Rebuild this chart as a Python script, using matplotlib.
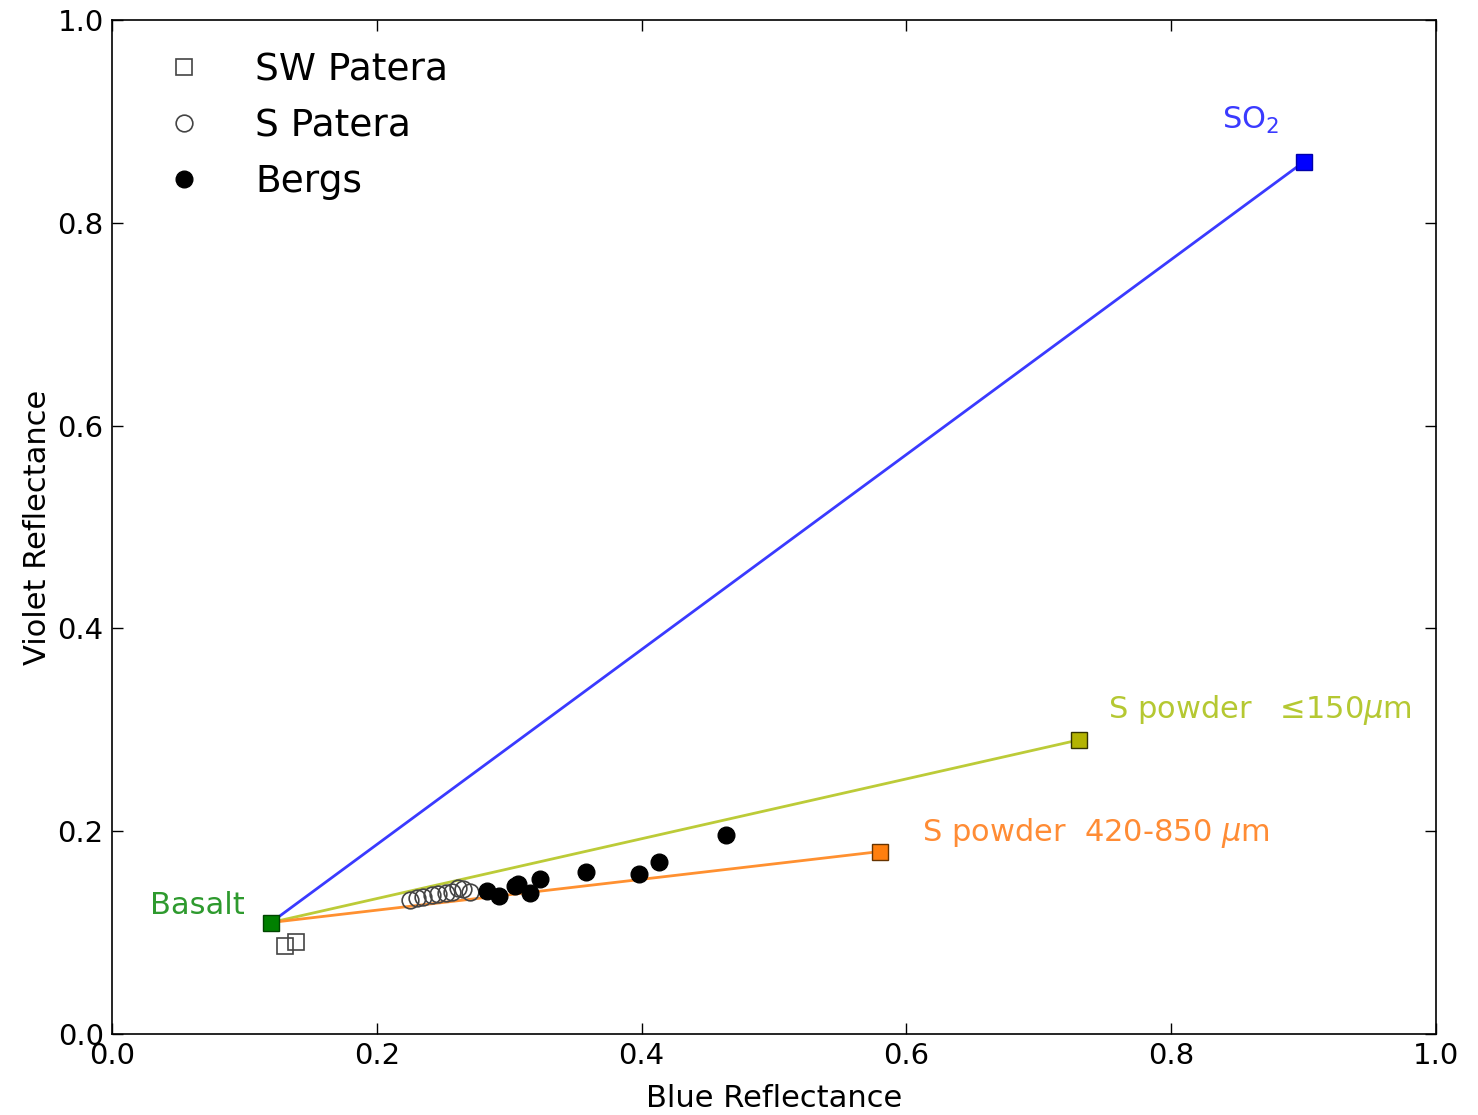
import numpy as np
import matplotlib
matplotlib.use('Agg')
import matplotlib.pyplot as plt

# end members (blue, violet)
basalt = (0.12, 0.11)
so2 = (0.90, 0.86)
s_fine = (0.73, 0.29)
s_coarse = (0.58, 0.18)

# SW Patera
sw_x = [0.131, 0.139]
sw_y = [0.087, 0.091]

# S Patera
sp_x = [0.225, 0.230, 0.235, 0.242, 0.246, 0.252, 0.257, 0.261, 0.265, 0.270]
sp_y = [0.132, 0.134, 0.135, 0.137, 0.138, 0.139, 0.140, 0.144, 0.143, 0.140]

# Bergs
bg_x = [0.283, 0.292, 0.304, 0.307, 0.316, 0.323, 0.358, 0.398, 0.413, 0.464]
bg_y = [0.141, 0.136, 0.146, 0.148, 0.139, 0.153, 0.160, 0.158, 0.170, 0.196]

plt.rcParams['font.family'] = 'DejaVu Sans'
plt.rcParams['mathtext.fontset'] = 'dejavusans'

fig = plt.figure(figsize=(14.78, 11.15), dpi=100)
ax = fig.add_axes([0.0758, 0.0726, 0.8958, 0.9094])

ax.plot([basalt[0], so2[0]], [basalt[1], so2[1]], '-', color='#3a3aff', lw=2)
ax.plot([basalt[0], s_fine[0]], [basalt[1], s_fine[1]], '-', color='#bccb38', lw=2)
ax.plot([basalt[0], s_coarse[0]], [basalt[1], s_coarse[1]], '-', color='#ff9030', lw=2)

ax.plot(sw_x, sw_y, 's', mfc='none', mec='#444444', ms=11, mew=1.2, label='SW Patera')
ax.plot(sp_x, sp_y, 'o', mfc='none', mec='#444444', ms=12, mew=1.2, label='S Patera')
ax.plot(bg_x, bg_y, 'o', color='black', ms=12, label='Bergs')

ax.plot(*so2, 's', mfc='#0000ff', mec='#0000aa', ms=11)
ax.plot(*s_fine, 's', mfc='#b3b300', mec='#333300', ms=11)
ax.plot(*s_coarse, 's', mfc='#ff7f0e', mec='#663300', ms=11)
ax.plot(*basalt, 's', mfc='#008000', mec='#004400', ms=11)

ax.text(0.838, 0.893, r'SO$_2$', color='#3a3aff', fontsize=22)
ax.text(0.752, 0.312, 'S powder   ≤150$\\mu$m', color='#b5c832', fontsize=22)
ax.text(0.612, 0.190, r'S powder  420-850 $\mu$m', color='#ff8c35', fontsize=22)
ax.text(0.029, 0.118, 'Basalt', color='#2e9a2e', fontsize=22)

ax.set_xlim(0, 1)
ax.set_ylim(0, 1)
ax.set_xticks(np.arange(0, 1.01, 0.2))
ax.set_yticks(np.arange(0, 1.01, 0.2))
ax.tick_params(direction='in', length=8, width=1, top=True, right=True, labelsize=21, pad=6)
for s in ax.spines.values():
    s.set_linewidth(1.2)

ax.set_xlabel('Blue Reflectance', fontsize=22, labelpad=10)
ax.set_ylabel('Violet Reflectance', fontsize=22, labelpad=4)

leg = ax.legend(loc='upper left', frameon=False, fontsize=27, numpoints=1,
                handlelength=1.0, handletextpad=1.4, labelspacing=0.53,
                borderaxespad=0, bbox_to_anchor=(0.0287, 0.983))

fig.savefig('out.png', dpi=100)
